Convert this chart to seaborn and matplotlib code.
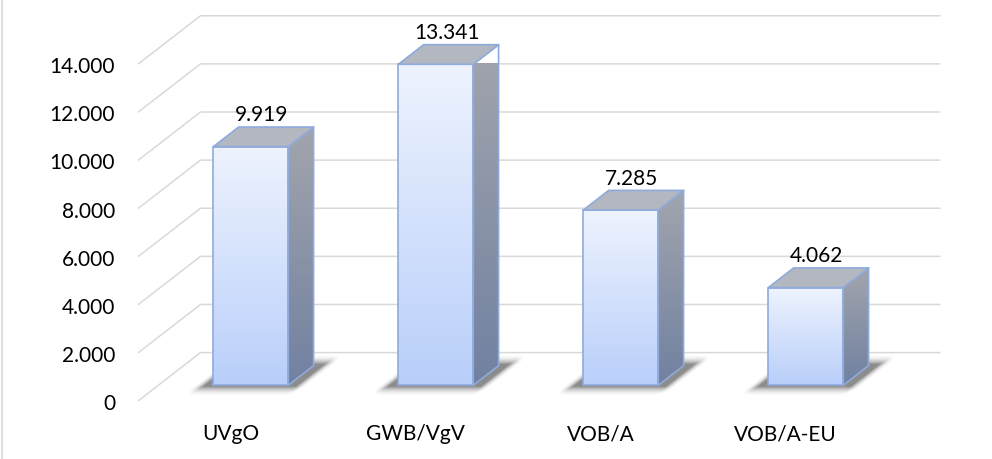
import numpy as np
import matplotlib
matplotlib.use("Agg")
import matplotlib.pyplot as plt
import seaborn as sns
import pandas as pd
from matplotlib.patches import Polygon
from matplotlib.transforms import Affine2D
from matplotlib.colors import to_rgb
from matplotlib.lines import Line2D

# ---------------- data ----------------
categories = ["UVgO", "GWB/VgV", "VOB/A", "VOB/A-EU"]
values = [9919, 13341, 7285, 4062]
value_labels = ["9.919", "13.341", "7.285", "4.062"]
tick_values = [0, 2000, 4000, 6000, 8000, 10000, 12000, 14000]
tick_labels = ["0", "2.000", "4.000", "6.000", "8.000", "10.000", "12.000", "14.000"]

# ---------------- style / geometry ----------------
W, H, DPI = 992, 460, 100
sns.set_theme(style="white")
plt.rcParams["font.family"] = ["Lato", "DejaVu Sans"]

PX_LEFT, PX_BASE = 138.0, 402.0      # front-left corner of the floor
CAT_PX = 185.0                        # pixels per category
VAL_PX = 0.02406                      # pixels per value unit
DEPTH_PX = (62.5, 48.4)               # oblique offset of the back wall
YMAX = 14000
D_FRONT, D_BACK = 0.325, 0.73         # depth of bar front / back faces
BAR_W = 0.405

FRONT_TOP, FRONT_BOT = "#eef3fe", "#b9cffa"
SIDE_TOP, SIDE_BOT = "#a2a5ad", "#7181a1"
TOP_COL = "#b3b7c0"
EDGE = "#8fabdc"
GRID = "#d9d9d9"
TXT = "#000000"
FS = 15

fig = plt.figure(figsize=(W / DPI, H / DPI), dpi=DPI)
fig.patch.set_facecolor("white")
n = len(categories)
ax = fig.add_axes([PX_LEFT / W, (H - PX_BASE) / H, n * CAT_PX / W, YMAX * VAL_PX / H])
ax.set_facecolor("none")

DX = DEPTH_PX[0] / CAT_PX
DY = DEPTH_PX[1] / VAL_PX


def at_depth(x, v, d):
    return (x + d * DX, v + d * DY)


def gradient(extent, c_top, c_bot, clip, zorder):
    t = np.linspace(0, 1, 256)[:, None, None]
    img = np.array(to_rgb(c_top))[None, None, :] * (1 - t) + np.array(to_rgb(c_bot))[None, None, :] * t
    im = ax.imshow(img, extent=extent, origin="upper", aspect="auto",
                   interpolation="bilinear", zorder=zorder)
    im.set_clip_box(None)
    im.set_clip_path(clip)
    return im


df = pd.DataFrame({"Verfahren": categories, "Anzahl": values})
sns.barplot(data=df, x="Verfahren", y="Anzahl", width=BAR_W, color=FRONT_BOT,
            saturation=1, edgecolor=EDGE, linewidth=1.2, errorbar=None,
            ax=ax, zorder=5)

x_lo, x_hi = -0.5, n - 0.5
ax.set_xlim(x_lo, x_hi)
ax.set_ylim(0, YMAX)

# back wall + side wall gridlines
for v in tick_values:
    ax.plot([x_lo, x_lo + DX, x_hi + DX], [v, v + DY, v + DY], color=GRID,
            lw=1.1, clip_on=False, zorder=1, solid_capstyle="butt")

shift = Affine2D().translate(D_FRONT * DX, D_FRONT * DY)

for i, patch in enumerate(ax.patches):
    xl = patch.get_x()
    w = patch.get_width()
    h = patch.get_height()
    xr = xl + w

    # floor shadow (soft)
    x0e, x1e = xl - 0.15, xr + DX + 0.15
    v0e, v1e = -0.15 * DY, 1.0 * DY
    xs = np.linspace(x0e, x1e, 260)
    vs = np.linspace(v1e, v0e, 160)
    X, V = np.meshgrid(xs, vs)
    d = V / DY
    c = X - d * DX
    lo_c, hi_c = xl - 8 / CAT_PX, xr + 10 / CAT_PX
    lo_d, hi_d = D_FRONT - 0.03, D_BACK + 0.02
    dxp = np.maximum(np.maximum(lo_c - c, c - hi_c), 0) * CAT_PX
    dyp = np.maximum(np.maximum(lo_d - d, d - hi_d), 0) * DEPTH_PX[1]
    dist = np.hypot(dxp, dyp)
    alpha = 0.6 * np.clip(1 - dist / 10.0, 0, 1) ** 2
    rgba = np.zeros((len(vs), len(xs), 4))
    rgba[..., :3] = 0.25
    rgba[..., 3] = alpha
    sh = ax.imshow(rgba, extent=(x0e, x1e, v0e, v1e), origin="upper", aspect="auto",
                   interpolation="bilinear", zorder=2)
    sh.set_clip_on(False)

    # front face: seaborn bar moved to its depth, filled with gradient
    patch.set_transform(shift + ax.transData)
    patch.set_facecolor("none")
    patch.set_clip_on(False)
    fx0, fy0 = at_depth(xl, 0, D_FRONT)
    gradient((fx0, fx0 + w, fy0, fy0 + h), FRONT_TOP, FRONT_BOT, patch, 4)

    # side face
    side_pts = [at_depth(xr, 0, D_FRONT), at_depth(xr, h, D_FRONT),
                at_depth(xr, h, D_BACK), at_depth(xr, 0, D_BACK)]
    side = Polygon(side_pts, closed=True, facecolor="none", edgecolor=EDGE,
                   lw=1.2, zorder=5, clip_on=False, joinstyle="round")
    ax.add_patch(side)
    sx = [p[0] for p in side_pts]
    sy = [p[1] for p in side_pts]
    gradient((min(sx), max(sx), min(sy), max(sy)), SIDE_TOP, SIDE_BOT, side, 4)

    # top face
    top_pts = [at_depth(xl, h, D_FRONT), at_depth(xr, h, D_FRONT),
               at_depth(xr, h, D_BACK), at_depth(xl, h, D_BACK)]
    ax.add_patch(Polygon(top_pts, closed=True, facecolor=TOP_COL, edgecolor=EDGE,
                         lw=1.2, zorder=5, clip_on=False, joinstyle="round"))

    # value label
    ly = at_depth(xl + w / 2, h, D_BACK)[1]
    lx = at_depth(xl + w / 2, h, 0.5)[0]
    ax.annotate(value_labels[i], xy=(lx, ly), xytext=(0, 4.7), textcoords="offset points",
                ha="center", va="baseline", fontsize=FS, color=TXT, annotation_clip=False,
                zorder=6)

# axes cosmetics
ax.set_yticks(tick_values)
ax.set_yticklabels(tick_labels)
ax.set_xlabel("")
ax.set_ylabel("")
ax.tick_params(axis="both", length=0, labelsize=FS, labelcolor=TXT)
ax.tick_params(axis="y", pad=16.5)
ax.tick_params(axis="x", pad=16.0)
for s in ax.spines.values():
    s.set_visible(False)
ax.grid(False)

# outer chart border (left edge visible)
fig.add_artist(Line2D([1.5 / W, 1.5 / W], [0, 1], transform=fig.transFigure,
                      color=GRID, lw=1.2))

fig.savefig("out.png", dpi=DPI, facecolor="white")
